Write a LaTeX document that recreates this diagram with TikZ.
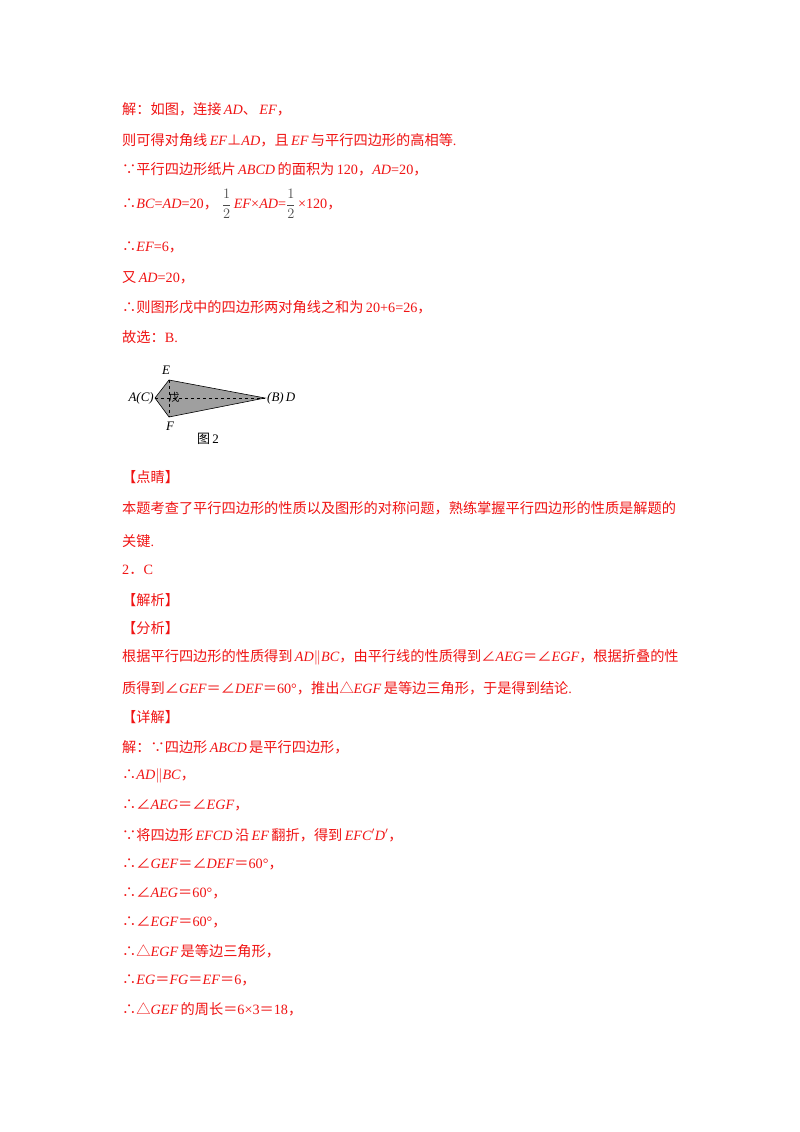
\documentclass[tikz,border=0pt]{standalone}
\usepackage{fontspec}
\setmainfont{Liberation Serif}
\newfontfamily\cjk{Noto Sans CJK SC}
\newcommand{\zh}[1]{{\cjk #1}}
\newcommand{\mi}[1]{\,\textit{#1}}
\newcommand{\hf}{{\color{black!70}$\displaystyle\frac{1}{2}$}}
\definecolor{ansred}{RGB}{240,20,20}
\begin{document}
\begin{tikzpicture}[x=1pt,y=-1pt,
  line/.style={anchor=west,inner sep=0pt,text=ansred,font=\fontsize{14.2}{16}\selectfont},
  lbl/.style={inner sep=0pt,font=\fontsize{13}{14}\selectfont\itshape}]
\useasboundingbox (0,0) rectangle (800,1132);
\fill[white] (0,0) rectangle (800,1132);
\node[line] (l1) at (122,109) {\zh{解：如图，连接}\mi{AD}\zh{、}\mi{EF}\zh{，}};
\node[line] (l2) at (122,140) {\zh{则可得对角线}\mi{EF}\zh{⊥}\textit{AD}\zh{，且}\mi{EF}\,\zh{与平行四边形的高相等}.};
\node[line] (l3) at (122,169) {\zh{∵平行四边形纸片}\mi{ABCD}\,\zh{的面积为}\,120\zh{，}\textit{AD}=20\zh{，}};
\node[line] (l4) at (122,204) {\zh{∴}\textit{BC}=\textit{AD}=20\zh{，}\;\hf\,\textit{EF}×\textit{AD}=\hf\,×120\zh{，}};
\node[line] (l5) at (122,247) {\zh{∴}\textit{EF}=6\zh{，}};
\node[line] (l6) at (122,278) {\zh{又}\mi{AD}=20\zh{，}};
\node[line] (l7) at (122,307) {\zh{∴则图形戊中的四边形两对角线之和为}\,20+6=26\zh{，}};
\node[line] (l8) at (122,337) {\zh{故选：}B.};
% figure
\coordinate (A) at (155,398);
\coordinate (E) at (169,380);
\coordinate (F) at (169,417);
\coordinate (D) at (265,398);
\fill[gray!75,draw=black,line width=0.6pt] (A) -- (E) -- (D) -- (F) -- cycle;
\draw[dashed,line width=0.5pt] (A) -- (D);
\draw[dashed,line width=0.5pt] (E) -- (F);
\node[lbl] (tE) at (166,370) {E};
\node[lbl] (tF) at (170,426) {F};
\node[lbl,anchor=east] (tA) at (154,398) {A(C)};
\node[lbl,anchor=west] (tD) at (267,398) {(B)\,D};
\node[inner sep=0pt,font=\fontsize{11}{12}\selectfont\cjk] (wu) at (174,397) {戊};
\node[inner sep=0pt,font=\fontsize{13}{14}\selectfont] (fig) at (208,439) {\zh{图}\,2};
% second part
\node[line] (m1) at (122,477) {\zh{【点睛】}};
\node[line] (m2) at (122,508) {\zh{本题考查了平行四边形的性质以及图形的对称问题，熟练掌握平行四边形的性质是解题的}};
\node[line] (m3) at (122,541) {\zh{关键}.};
\node[line] (m4) at (122,570) {2\zh{．}C};
\node[line] (m5) at (122,600) {\zh{【解析】}};
\node[line] (m6) at (122,628) {\zh{【分析】}};
\node[line] (m7) at (122,657) {\zh{根据平行四边形的性质得到}\mi{AD}$\|$\textit{BC}\zh{，由平行线的性质得到∠}\textit{AEG}\zh{＝∠}\textit{EGF}\zh{，根据折叠的性}};
\node[line] (m8) at (122,688) {\zh{质得到∠}\textit{GEF}\zh{＝∠}\textit{DEF}\zh{＝}60°\zh{，推出△}\textit{EGF}\,\zh{是等边三角形，于是得到结论}.};
\node[line] (n1) at (122,717) {\zh{【详解】}};
\node[line] (n2) at (122,747) {\zh{解：∵四边形}\mi{ABCD}\,\zh{是平行四边形，}};
\node[line] (n3) at (122,776) {\zh{∴}\textit{AD}$\|$\textit{BC}\zh{，}};
\node[line] (n4) at (122,805) {\zh{∴∠}\textit{AEG}\zh{＝∠}\textit{EGF}\zh{，}};
\node[line] (n5) at (122,835) {\zh{∵将四边形}\mi{EFCD}\,\zh{沿}\mi{EF}\,\zh{翻折，得到}\mi{EFC$'$D$'$}\zh{，}};
\node[line] (n6) at (122,864) {\zh{∴∠}\textit{GEF}\zh{＝∠}\textit{DEF}\zh{＝}60°\zh{，}};
\node[line] (n7) at (122,893) {\zh{∴∠}\textit{AEG}\zh{＝}60°\zh{，}};
\node[line] (n8) at (122,922) {\zh{∴∠}\textit{EGF}\zh{＝}60°\zh{，}};
\node[line] (n9) at (122,951) {\zh{∴△}\textit{EGF}\,\zh{是等边三角形，}};
\node[line] (n10) at (122,980) {\zh{∴}\textit{EG}\zh{＝}\textit{FG}\zh{＝}\textit{EF}\zh{＝}6\zh{，}};
\node[line] (n11) at (122,1009) {\zh{∴△}\textit{GEF}\,\zh{的周长＝}6×3\zh{＝}18\zh{，}};
\end{tikzpicture}
\end{document}
